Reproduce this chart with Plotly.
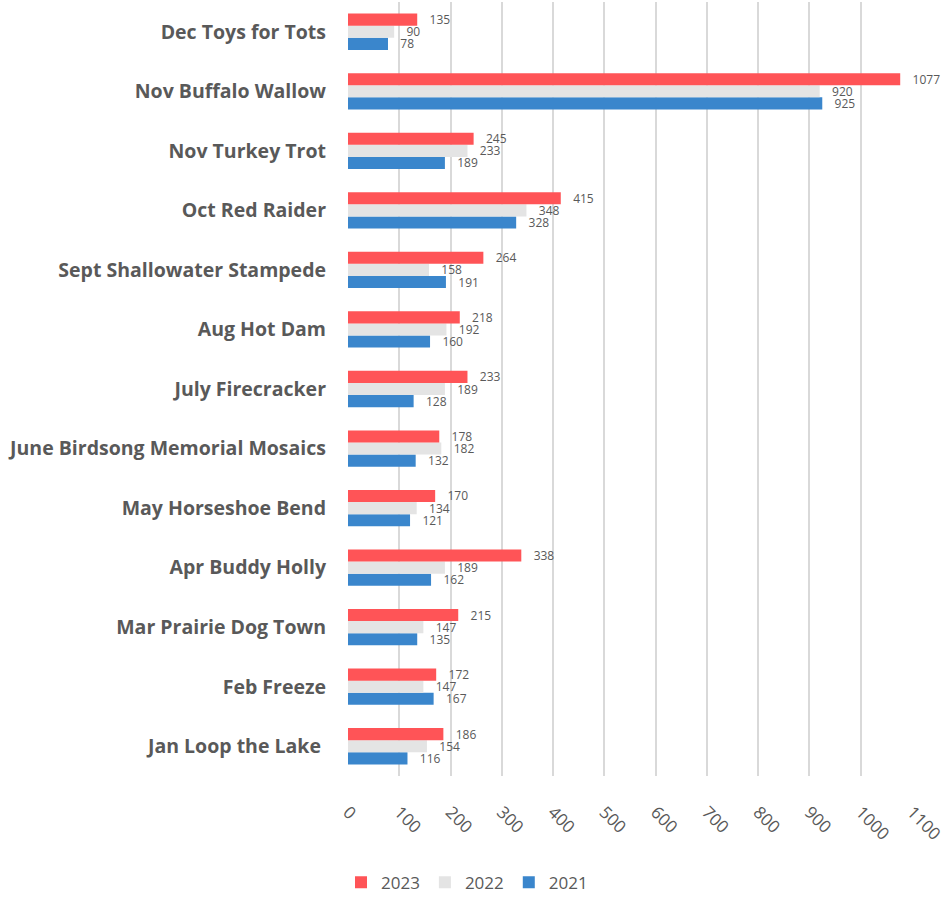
import plotly.graph_objects as go

categories = [
    "Jan Loop the Lake ",
    "Feb Freeze",
    "Mar Prairie Dog Town",
    "Apr Buddy Holly",
    "May Horseshoe Bend",
    "June Birdsong Memorial Mosaics",
    "July Firecracker",
    "Aug Hot Dam",
    "Sept Shallowater Stampede",
    "Oct Red Raider",
    "Nov Turkey Trot",
    "Nov Buffalo Wallow",
    "Dec Toys for Tots",
]
v2023 = [186, 172, 215, 338, 170, 178, 233, 218, 264, 415, 245, 1077, 135]
v2022 = [154, 147, 147, 189, 134, 182, 189, 192, 158, 348, 233, 920, 90]
v2021 = [116, 167, 135, 162, 121, 132, 128, 160, 191, 328, 189, 925, 78]
x_ticks = [0, 100, 200, 300, 400, 500, 600, 700, 800, 900, 1000, 1100]

series = [
    ("2021", v2021, "#3A86CC"),
    ("2022", v2022, "#E4E4E4"),
    ("2023", v2023, "#FF5457"),
]

fig = go.Figure()
for name, vals, color in series:
    fig.add_trace(go.Bar(
        name=name, y=categories, x=vals, orientation="h",
        marker=dict(color=color, line=dict(width=0)),
        text=vals, texttemplate="   %{x}", textposition="outside",
        constraintext="none",
        textfont=dict(family="Open Sans", size=12, color="#595959"),
        cliponaxis=False,
    ))

fig.update_layout(
    width=944, height=901,
    margin=dict(l=348, r=32, t=2, b=125, autoexpand=False),
    barmode="group", bargap=0.39, bargroupgap=0,
    plot_bgcolor="white", paper_bgcolor="white",
    legend=dict(
        orientation="h", traceorder="reversed",
        x=0.211, xanchor="center", y=-0.1612, yanchor="bottom",
        font=dict(family="Open Sans", size=17, color="#595959"),
        itemwidth=30,
    ),
    showlegend=True,
)
fig.update_xaxes(
    range=[0, 1100], tickvals=x_ticks, showgrid=True, gridcolor="#D9D9D9",
    gridwidth=2, zeroline=False, showline=False, tickangle=45,
    ticks="", ticklabelstandoff=22, automargin=False,
    ticklabeloverflow="allow",
    tickfont=dict(family="Open Sans", size=17, color="#595959"),
)
fig.update_yaxes(
    categoryorder="array", categoryarray=categories,
    showgrid=False, zeroline=False, showline=False, ticks="",
    ticklabelstandoff=21, automargin=False,
    tickfont=dict(family="Open Sans", size=19.5, color="#595959", weight="bold"),
)

fig.write_html("out.html")
